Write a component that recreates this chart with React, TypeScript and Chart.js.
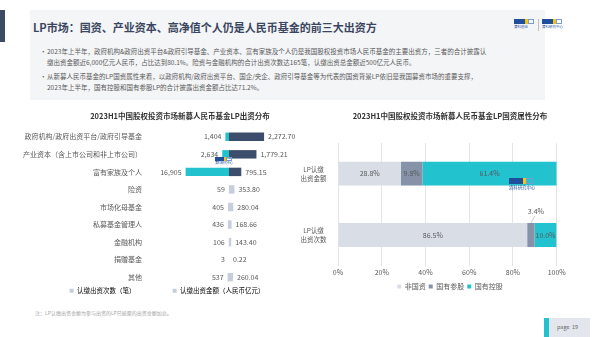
import React, { useEffect, useRef } from "react";
import { Chart, registerables } from "chart.js";
Chart.register(...registerables);

const FONT = '"Noto Sans CJK SC", "Noto Sans", sans-serif';

// ---- Left chart data ----
const lpCategories = [
  "政府机构/政府出资平台/政府引导基金",
  "产业资本（含上市公司和非上市公司）",
  "富有家族及个人",
  "险资",
  "市场化母基金",
  "私募基金管理人",
  "金融机构",
  "捐赠基金",
  "其他",
];
const commitCounts = [1404, 2634, 16905, 59, 405, 436, 106, 3, 537];
const commitAmounts = [2272.7, 1779.21, 795.15, 353.8, 280.04, 168.66, 143.4, 0.22, 260.04];
const countsLegend = "认缴出资次数（笔）";
const amountsLegend = "认缴出资金额（人民币亿元）";
const leftTitle = "2023H1中国股权投资市场新募人民币基金LP出资分布";

// ---- Right chart data ----
const attrCategories = [["LP认缴", "出资金额"], ["LP认缴", "出资次数"]];
const attrSeriesNames = ["非国资", "国有参股", "国有控股"];
const nonStateShare = [28.8, 86.5];
const minorityStateShare = [9.8, 3.4];
const controlledStateShare = [61.4, 10.0];
const rightTitle = "2023H1中国股权投资市场新募人民币基金LP国资属性分布";

const CYAN = "#22c3cf";
const NAVY = "#3d4d6c";
const LIGHT = "#c7cedb";
const TEXT = "#595959";

const butterflyLabels = {
  id: "butterflyLabels",
  afterDatasetsDraw(chart: any) {
    const ctx = chart.ctx;
    ctx.save();
    ctx.font = `7px ${FONT}`;
    ctx.fillStyle = TEXT;
    ctx.textBaseline = "middle";
    chart.data.datasets.forEach((ds: any, di: number) => {
      const meta = chart.getDatasetMeta(di);
      meta.data.forEach((el: any, i: number) => {
        const v = ds.data[i];
        const l = Math.min(el.x, el.base);
        const r = Math.max(el.x, el.base);
        if (di === 0) {
          ctx.textAlign = "right";
          ctx.fillText(v.toLocaleString("en-US"), l - 4, el.y);
        } else {
          ctx.textAlign = "left";
          ctx.fillText(
            v.toLocaleString("en-US", { minimumFractionDigits: 2, maximumFractionDigits: 2 }),
            r + 4,
            el.y
          );
        }
      });
    });
    ctx.restore();
  },
};

const shareLabels = {
  id: "shareLabels",
  afterDatasetsDraw(chart: any) {
    const ctx = chart.ctx;
    ctx.save();
    ctx.font = `7px ${FONT}`;
    ctx.fillStyle = TEXT;
    ctx.textBaseline = "middle";
    ctx.textAlign = "center";
    chart.data.datasets.forEach((ds: any, di: number) => {
      const meta = chart.getDatasetMeta(di);
      meta.data.forEach((el: any, i: number) => {
        const v = ds.data[i];
        const cx = (el.x + el.base) / 2;
        const w = Math.abs(el.x - el.base);
        const txt = v.toFixed(1) + "%";
        if (w < 12) {
          const top = el.y - el.height / 2;
          ctx.strokeStyle = "#a6a6a6";
          ctx.lineWidth = 0.6;
          ctx.beginPath();
          ctx.moveTo(cx, top);
          ctx.lineTo(cx + 4, top - 7);
          ctx.stroke();
          ctx.fillText(txt, cx + 5, top - 12);
        } else {
          ctx.fillText(txt, cx, el.y);
        }
      });
    });
    ctx.restore();
  },
};

// re-centre the title / legend blocks over a chosen horizontal span (canvas coords)
const blockSpan = (title?: [number, number], legend?: [number, number]) => ({
  id: "blockSpan",
  afterLayout(chart: any) {
    if (title && chart.titleBlock) {
      chart.titleBlock.left = title[0];
      chart.titleBlock.right = title[1];
    }
    if (legend && chart.legend) {
      chart.legend.left = legend[0];
      chart.legend.right = legend[1];
    }
  },
});

function LogoMark({ x, y, s, label }: { x: number; y: number; s: number; label: string }) {
  return (
    <div style={{ position: "absolute", left: x, top: y, width: 22 * s, height: 12 * s }}>
      <div style={{ position: "absolute", left: 0, top: 0, width: 11 * s, height: 4.5 * s, background: "#1f4e9c" }} />
      <div style={{ position: "absolute", left: 11 * s, top: 0, width: 2.5 * s, height: 4.5 * s, background: "#f0c419" }} />
      <div style={{ position: "absolute", left: 13.5 * s, top: 0, width: 6 * s, height: 4.5 * s, border: "0.5px solid #7d9bd1", boxSizing: "border-box" }} />
      <div style={{ position: "absolute", left: 0, top: 5.5 * s, fontSize: 3.5 * s, lineHeight: 1, color: "#1f4e9c", whiteSpace: "nowrap", fontFamily: FONT }}>{label}</div>
    </div>
  );
}

export default function App() {
  const leftRef = useRef<HTMLCanvasElement>(null);
  const rightRef = useRef<HTMLCanvasElement>(null);

  useEffect(() => {
    const left = new Chart(leftRef.current as HTMLCanvasElement, {
      type: "bar",
      data: {
        labels: lpCategories,
        datasets: [
          {
            label: countsLegend,
            data: commitCounts,
            xAxisID: "xc",
            backgroundColor: commitCounts.map((_, i) => (i < 3 ? CYAN : LIGHT)),
            grouped: false,
            barPercentage: 0.48,
            categoryPercentage: 1,
          } as any,
          {
            label: amountsLegend,
            data: commitAmounts,
            xAxisID: "xa",
            backgroundColor: commitAmounts.map((_, i) => (i < 3 ? NAVY : LIGHT)),
            grouped: false,
            barPercentage: 0.48,
            categoryPercentage: 1,
          } as any,
        ],
      },
      options: {
        indexAxis: "y",
        responsive: true,
        maintainAspectRatio: false,
        animation: false,
        layout: { padding: { left: 14, right: 0, top: 0, bottom: 0 } },
        scales: {
          xc: {
            type: "linear",
            axis: "x",
            position: "bottom",
            stack: "lp",
            stackWeight: 77,
            reverse: true,
            min: 0,
            max: 30000,
            display: false,
          },
          xa: {
            type: "linear",
            axis: "x",
            position: "bottom",
            stack: "lp",
            stackWeight: 71,
            min: 0,
            max: 4600,
            display: false,
          },
          y: {
            type: "category",
            position: "left",
            grid: { display: false },
            border: { display: false },
            ticks: { font: { size: 7, family: FONT }, color: TEXT, padding: 2 },
            afterFit: (s: any) => {
              s.width = 138;
            },
          },
        } as any,
        plugins: {
          title: {
            display: true,
            text: leftTitle,
            color: "#333333",
            font: { size: 7.5, weight: "bold", family: FONT },
            padding: { top: 4, bottom: 7 },
          },
          legend: {
            position: "bottom",
            labels: {
              boxWidth: 4,
              boxHeight: 4,
              padding: 1.5,
              color: TEXT,
              font: { size: 6.5, family: FONT },
              generateLabels: (chart: any) =>
                chart.data.datasets.map((ds: any, i: number) => ({
                  text: ds.label + (i === 0 ? "\u3000".repeat(6) : ""),
                  fillStyle: LIGHT,
                  strokeStyle: LIGHT,
                  lineWidth: 0,
                  hidden: false,
                  datasetIndex: i,
                })),
            },
          },
          tooltip: { enabled: false },
        },
      },
      plugins: [butterflyLabels, blockSpan([60, 300], [34, 300])],
    } as any);

    const right = new Chart(rightRef.current as HTMLCanvasElement, {
      type: "bar",
      data: {
        labels: attrCategories,
        datasets: [
          { label: attrSeriesNames[0], data: nonStateShare, backgroundColor: "#d9dde6" },
          { label: attrSeriesNames[1], data: minorityStateShare, backgroundColor: "#8592a8" },
          { label: attrSeriesNames[2], data: controlledStateShare, backgroundColor: CYAN },
        ],
      },
      options: {
        indexAxis: "y",
        responsive: true,
        maintainAspectRatio: false,
        animation: false,
        layout: { padding: { left: 0, right: 43.3, top: 0, bottom: 0 } },
        datasets: { bar: { barPercentage: 0.39, categoryPercentage: 1 } },
        scales: {
          x: {
            stacked: true,
            min: 0,
            max: 100,
            ticks: {
              stepSize: 20,
              callback: (v: any) => v + "%",
              font: { size: 7, family: FONT },
              color: TEXT,
              padding: 3,
            },
            grid: { color: "#e4e4e4", drawTicks: false },
            border: { display: false },
          },
          y: {
            stacked: true,
            grid: { display: false },
            border: { display: false },
            ticks: {
              crossAlign: "center",
              padding: 3.5,
              font: { size: 6.5, family: FONT, lineHeight: 1.35 },
              color: TEXT,
            },
            afterFit: (s: any) => {
              s.width = 38;
            },
          },
        } as any,
        plugins: {
          title: {
            display: true,
            text: rightTitle,
            color: "#333333",
            font: { size: 7.5, weight: "bold", family: FONT },
            padding: { top: 4, bottom: 22 },
          },
          legend: {
            position: "bottom",
            labels: {
              boxWidth: 4,
              boxHeight: 4,
              padding: 3,
              color: TEXT,
              font: { size: 7, family: FONT },
            },
          },
          tooltip: { enabled: false },
        },
      },
      plugins: [shareLabels, blockSpan([0, 300], [0, 300])],
    } as any);

    return () => {
      left.destroy();
      right.destroy();
    };
  }, []);

  const bulletStyle: React.CSSProperties = {
    position: "absolute",
    left: 40,
    fontSize: 6.5,
    lineHeight: "11px",
    color: TEXT,
    whiteSpace: "nowrap",
  };

  return (
    <div
      style={{
        position: "fixed",
        left: 0,
        top: 0,
        width: 600,
        height: 337,
        background: "#ffffff",
        overflow: "hidden",
        fontFamily: FONT,
      }}
    >
      <div style={{ position: "absolute", left: 0, top: 10, width: 5, height: 32, background: "#3d4a63" }} />
      <div style={{ position: "absolute", left: 30, top: 10, width: 515, height: 90, background: "#f4f5f7" }} />
      <div
        style={{
          position: "absolute",
          left: 33,
          top: 19,
          fontSize: 11,
          lineHeight: "16px",
          fontWeight: "bold",
          color: "#3a4660",
          whiteSpace: "nowrap",
        }}
      >
        LP市场：国资、产业资本、高净值个人仍是人民币基金的前三大出资方
      </div>
      <div style={{ ...bulletStyle, top: 46 }}>
        <span style={{ position: "absolute", left: 0 }}>•</span>
        <div style={{ marginLeft: 7 }}>
          2023年上半年，政府机构&amp;政府出资平台&amp;政府引导基金、产业资本、富有家族及个人仍是我国股权投资市场人民币基金的主要出资方，三者的合计披露认
          <br />
          缴出资金额近6,000亿元人民币，占比达到80.1%。险资与金融机构的合计出资次数达165笔，认缴出资总金额近500亿元人民币。
        </div>
      </div>
      <div style={{ ...bulletStyle, top: 70.5 }}>
        <span style={{ position: "absolute", left: 0 }}>•</span>
        <div style={{ marginLeft: 7 }}>
          从新募人民币基金的LP国资属性来看，以政府机构/政府出资平台、国企/央企、政府引导基金等为代表的国资背景LP依旧是我国募资市场的重要支撑，
          <br />
          2023年上半年，国有控股和国有参股LP的合计披露出资金额占比达71.2%。
        </div>
      </div>

      <LogoMark x={514} y={19} s={1} label="清科创业" />
      <div style={{ position: "absolute", left: 538, top: 19, width: 0.6, height: 12, background: "#c0c0c0" }} />
      <LogoMark x={542} y={19} s={1} label="清科研究中心" />

      <div style={{ position: "absolute", left: 0, top: 108, width: 300, height: 196 }}>
        <canvas ref={leftRef} />
      </div>
      <div style={{ position: "absolute", left: 300, top: 108, width: 300, height: 192 }}>
        <canvas ref={rightRef} />
      </div>

      <LogoMark x={215} y={157} s={0.85} label="清科研究中心" />
      <LogoMark x={509} y={178} s={1.25} label="清科研究中心" />

      <div
        style={{
          position: "absolute",
          left: 35,
          top: 309,
          fontSize: 5,
          lineHeight: "7px",
          color: "#a6a6a6",
          whiteSpace: "nowrap",
        }}
      >
        注：LP认缴出资金额为参与出资的LP已披露的出资金额加总。
      </div>

      <div style={{ position: "absolute", left: 544, top: 318, width: 5, height: 19, background: CYAN }} />
      <div style={{ position: "absolute", left: 549, top: 318, width: 41, height: 19, background: "#e3e6ec" }} />
      <div
        style={{
          position: "absolute",
          left: 557,
          top: 324,
          fontSize: 5.5,
          lineHeight: "7px",
          color: "#666666",
          whiteSpace: "pre",
        }}
      >
        page  19
      </div>
    </div>
  );
}
